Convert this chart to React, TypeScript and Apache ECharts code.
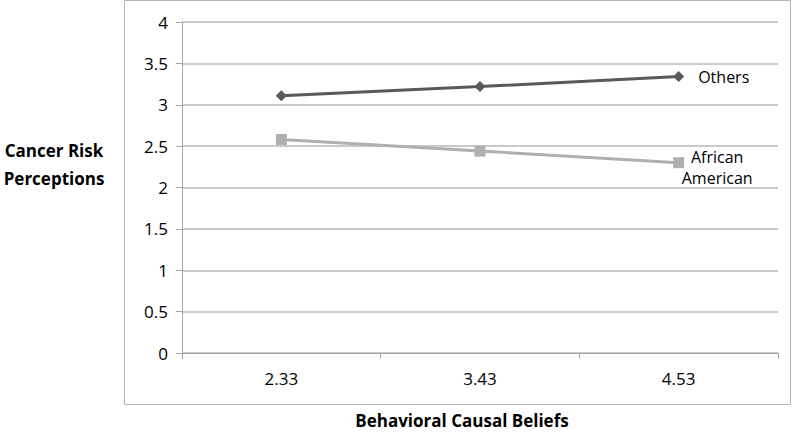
import React, { useEffect, useRef } from "react";
import * as echarts from "echarts";

const categories = ["2.33", "3.43", "4.53"];
const othersValues = [3.11, 3.22, 3.34];
const africanAmericanValues = [2.58, 2.44, 2.3];
const yTicks = [0, 0.5, 1, 1.5, 2, 2.5, 3, 3.5, 4];
const yTitle = "Cancer Risk\nPerceptions";
const xTitle = "Behavioral Causal Beliefs";

const FONT = "Open Sans";

function withEndLabel(values: number[], label: any) {
  return values.map((v, i) =>
    i === values.length - 1 ? { value: v, label: { show: true, ...label } } : v
  );
}

export default function App() {
  const ref = useRef<HTMLDivElement>(null);
  useEffect(() => {
    document.body.style.margin = "0";
    const chart = echarts.init(ref.current!, null, { renderer: "svg" });
    chart.setOption({
      animation: false,
      backgroundColor: "#ffffff",
      textStyle: { fontFamily: FONT },
      grid: { left: 182, right: 22, top: 22, bottom: 79, containLabel: false },
      graphic: [
        {
          type: "rect",
          shape: { x: 124.5, y: 0.5, width: 666, height: 404 },
          style: { fill: "none", stroke: "#b4b4b4", lineWidth: 1 },
          silent: true,
        },
        {
          type: "text",
          x: 54,
          y: 164,
          style: {
            text: yTitle,
            font: `bold 17px "${FONT}"`,
            fill: "#000",
            align: "center",
            verticalAlign: "middle",
            lineHeight: 28,
          },
        },
        {
          type: "text",
          x: 462,
          y: 420,
          style: {
            text: xTitle,
            font: `bold 17px "${FONT}"`,
            fill: "#000",
            align: "center",
            verticalAlign: "middle",
          },
        },
      ],
      xAxis: {
        type: "category",
        data: categories,
        boundaryGap: true,
        axisLine: { show: true, lineStyle: { color: "#a6a6a6", width: 1 } },
        axisTick: { show: true, length: 6, inside: false, lineStyle: { color: "#a6a6a6" } },
        axisLabel: { color: "#000", fontSize: 17, margin: 17, fontFamily: FONT },
        splitLine: { show: false },
      },
      yAxis: {
        type: "value",
        min: 0,
        max: 4,
        interval: 0.5,
        axisLine: { show: true, lineStyle: { color: "#a6a6a6", width: 1 } },
        axisTick: { show: true, length: 6, lineStyle: { color: "#a6a6a6" } },
        axisLabel: {
          color: "#000",
          fontSize: 17,
          margin: 14,
          fontFamily: FONT,
          formatter: (v: number) => (yTicks.includes(v) ? String(v) : ""),
        },
        splitLine: { show: true, lineStyle: { color: "#b8b8b8", width: 1.5 } },
      },
      series: [
        {
          name: "Others",
          type: "line",
          data: withEndLabel(othersValues, {
            formatter: "Others",
            position: "right",
            distance: 14,
            color: "#000",
            fontSize: 16,
            fontFamily: FONT,
          }),
          symbol: "diamond",
          symbolSize: 11,
          lineStyle: { color: "#595959", width: 3 },
          itemStyle: { color: "#595959" },
        },
        {
          name: "African American",
          type: "line",
          data: withEndLabel(africanAmericanValues, {
            formatter: "African\nAmerican",
            position: "right",
            distance: 33,
            offset: [0, 5],
            align: "center",
            color: "#000",
            fontSize: 16,
            lineHeight: 21,
            fontFamily: FONT,
          }),
          symbol: "rect",
          symbolSize: 11,
          lineStyle: { color: "#b0b0b0", width: 3 },
          itemStyle: { color: "#b0b0b0" },
        },
      ],
    });
    return () => chart.dispose();
  }, []);
  return <div ref={ref} style={{ width: 800, height: 432 }} />;
}
